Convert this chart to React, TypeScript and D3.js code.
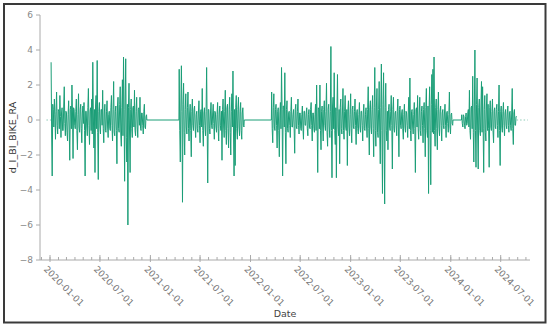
import React from 'react';
import * as d3 from 'd3';

// sampled every 2 days, one array per season of counting
const STEP_DAYS = 2;
const segmentStarts = ['2020-01-05', '2021-04-16', '2022-03-19', '2024-02-10'];

const segA = [
  3.3, -0.8, -3.2, 0.9, 0.6, -0.4, 1.2, 0.3, -1.1, 0.5, 1.6, -0.3, -0.8, 0.6, 0.5, -0.5,
  1.4, 0.2, -1.0, 0.4, 0.7, -0.6, -0.6, 0.8, 1.9, -0.2, -0.9, 0.5, 0.4, -0.7, -1.2, 0.3,
  1.1, -0.4, -2.3, 0.6, 0.8, -0.5, 2.0, 0.4, -2.2, 0.7, 0.6, -0.3, -0.5, 0.5, 1.2, -0.6,
  -1.7, 0.3, 1.5, -0.4, -0.7, 0.6, 0.9, -0.5, -1.3, 0.4, 0.8, -0.2, 1.0, -0.6, -3.2, 0.5,
  0.5, -0.4, -0.9, 0.7, 1.8, -0.3, -1.4, 0.5, 0.7, -0.6, 1.2, -0.8, 3.3, 0.4, -1.6, 0.6,
  -3.0, 0.8, 1.4, -0.5, 3.4, -0.7, -3.4, 0.5, 1.0, -0.4, -0.8, 0.6, 0.6, -0.3, 1.7, -0.5,
  -1.3, 0.4, 0.9, -0.6, -0.7, 0.5, 1.1, -0.4, -1.0, 0.3, 0.5, -0.5, -0.6, 0.7, 1.4, -0.3,
  -1.2, 0.6, 2.2, -0.7, -0.9, 0.5, 0.8, -0.6, -2.5, 0.8, 1.3, -0.5, -0.7, 0.9, 1.9, -0.8,
  -1.5, 0.7, 2.3, -0.9, 3.6, 0.6, -3.5, 0.8, 3.5, -1.0, -2.4, 0.9, -6.0, 0.7, 2.1, -0.8,
  -3.0, 0.6, 1.2, -0.5, -1.0, 0.7, 0.8, -0.4, 1.7, -0.6, -0.9, 0.5, 1.3, -0.4, -1.0, 0.6,
  0.7, -0.3, 1.3, -0.5, -0.6, 0.4, 0.4, -0.3, -0.8, 0.5, 0.9, -0.4, -0.5, 0.2, 0.3,
];

const segB = [
  2.9, -0.6, -2.4, 0.8, 3.1, 0.5, -4.7, 0.9, 2.1, -0.7, -2.0, 0.6, 1.5, -0.4, -0.8, 0.7,
  1.6, -0.5, -1.2, 0.4, 0.9, -0.6, -2.1, 0.5, 1.2, -0.3, -0.6, 0.6, 0.8, -0.4, -1.0, 0.3,
  0.5, -0.5, -0.7, 0.4, 1.1, -0.3, -1.3, 0.5, 0.6, -0.4, 1.8, -0.6, -1.5, 0.4, 0.7, -0.3,
  -0.9, 0.5, 3.0, -0.4, -3.6, 0.6, 0.6, -0.5, -0.8, 0.4, 1.0, -0.3, -0.5, 0.4, 0.9, -0.2,
  -1.1, 0.5, 0.4, -0.4, -0.7, 0.3, 1.0, -0.5, -1.2, 0.4, 0.8, -0.3, -0.6, 0.5, -2.3, 0.6,
  1.2, -0.4, -1.0, 0.5, 1.7, -0.6, -1.4, 0.7, 0.9, -0.5, -1.6, 0.6, 1.3, -0.7, -2.0, 0.5,
  1.5, -0.4, 2.8, -0.8, -3.2, 0.6, -2.6, 0.7, 1.4, -0.5, -1.1, 0.6, 1.3, -0.4, -0.9, 0.5,
  1.0, -0.6, -1.1, 0.4, 0.7, -0.3, -0.4,
];

const segC = [
  1.6, -0.5, -1.3, 0.7, 1.5, -0.4, -0.6, 0.6, 0.9, -0.3, -1.6, 0.5, 0.7, -0.6, -2.1, 0.4,
  1.0, -0.5, 3.0, 0.6, -3.2, 0.8, 0.8, -0.4, 2.7, -0.7, -2.5, 0.6, 1.1, -0.5, -0.7, 0.4,
  0.5, -0.3, -1.0, 0.5, 1.3, -0.4, -0.4, 0.3, 0.6, -0.5, -1.9, 0.6, 0.9, -0.4, -0.5, 0.5,
  1.2, -0.3, -0.8, 0.4, 0.4, -0.5, -0.6, 0.3, 0.8, -0.4, -1.1, 0.5, 0.5, -0.3, -0.3, 0.4,
  0.7, -0.5, -0.9, 0.3, 0.6, -0.4, -0.5, 0.6, 1.0, -0.3, -1.2, 0.4, 0.4, -0.5, -0.7, 0.3,
  0.9, -0.6, 2.0, -0.4, -3.0, 0.7, 0.6, -0.5, 2.0, -0.6, -1.7, 0.5, 0.8, -0.4, -1.2, 0.6,
  1.1, -0.3, -0.6, 0.5, 2.1, -0.7, -1.5, 0.6, 0.9, -0.4, -1.0, 0.5, 4.2, -0.6, -3.3, 0.8,
  1.3, -0.5, 2.7, -0.6, -1.4, 0.7, -3.3, 0.5, 2.6, -0.4, -0.9, 0.6, -2.5, 0.7, 1.2, -0.5,
  -0.8, 0.4, 1.8, -0.6, -1.1, 0.5, 1.4, -0.4, -0.6, 0.6, -2.6, 0.5, 1.1, -0.4, -0.9, 0.3,
  1.5, -0.5, -1.3, 0.6, 0.8, -0.4, -0.5, 0.5, 1.2, -0.3, -1.4, 0.4, 0.6, -0.5, -0.8, 0.3,
  1.0, -0.4, -0.7, 0.5, 0.5, -0.3, -1.2, 0.4, 0.9, -0.5, -0.6, 0.3, 0.7, -0.4, -1.0, 0.6,
  1.9, -0.5, -2.0, 0.7, 1.1, -0.4, -0.8, 0.6, 1.4, -0.5, -2.1, 0.7, 3.0, -0.6, -1.5, 0.8,
  1.8, -0.7, -1.0, 0.6, 2.2, -0.8, -2.5, 0.7, 3.2, -0.6, -4.2, 0.9, 2.7, -0.8, -4.8, 0.7,
  2.1, -0.6, -1.2, 0.5, -1.7, 0.6, 0.9, -0.4, -0.6, 0.5, 1.4, -0.3, -2.8, 0.6, 1.3, -0.5,
  -0.7, 0.4, 0.5, -0.3, -0.9, 0.5, 1.2, -0.4, -2.1, 0.6, 0.8, -0.3, -0.5, 0.4, 0.6, -0.5,
  -1.1, 0.3, 0.9, -0.4, -0.7, 0.5, 0.4, -0.3, -1.0, 0.4, 1.3, -0.5, 2.4, -0.6, -1.2, 0.5,
  0.6, -0.4, -0.8, 0.3, 1.0, -0.5, -3.0, 0.6, 0.7, -0.4, 1.4, -0.5, -1.1, 0.4, 1.3, -0.6,
  -0.9, 0.5, 0.8, -0.3, -1.3, 0.6, 1.0, -0.5, -2.1, 0.7, 1.8, -0.6, -1.0, 0.8, -4.2, 0.7,
  1.9, -0.6, -3.7, 0.9, 2.6, -0.7, 2.9, -0.8, 3.6, -0.6, -1.5, 0.7, 1.2, -0.5, -1.7, 0.6,
  1.6, -0.4, -0.9, 0.5, 0.8, -0.3, -1.2, 0.4, 0.6, -0.3, -0.5, 0.4, 0.9, -0.3, -1.0, 0.4,
  0.5, -0.2, -0.7, 0.3, 1.6, -0.4, -0.8, 0.3, 0.4, -0.2, -0.3,
];

const segD = [
  0.3, -0.2, -0.4, 0.3, 0.2, -0.3, -0.5, 0.2, 0.4, -0.3, -0.2, 0.4, 0.6, -0.4, 1.7, -0.6,
  -1.1, 0.7, 0.8, -0.5, 2.5, -0.7, -2.4, 0.8, 4.0, -0.6, -2.7, 0.9, 2.4, -0.8, -2.8, 0.7,
  1.2, -0.6, -0.9, 0.8, 2.2, -0.7, 1.9, -0.5, -3.0, 0.6, 1.4, -0.7, -1.2, 0.8, 1.5, -0.6,
  0.9, -0.5, -2.7, 0.7, 1.1, -0.4, -0.6, 0.5, 1.2, -0.6, -1.3, 0.5, 0.7, -0.4, -0.5, 0.6,
  0.9, -0.3, -1.0, 0.5, 2.0, -0.6, -2.6, 0.5, 0.8, -0.4, -0.7, 0.5, 1.0, -0.3, -0.9, 0.4,
  0.6, -0.3, -0.5, 0.4, 0.8, -0.3, -0.7, 0.4, 0.5, -0.3, -0.6, 0.4, 1.8, -0.5, -1.4, 0.4,
  0.6, -0.3, -0.3, 0.2, 0.2,
];

const yTicks = [-8, -6, -4, -2, 0, 2, 4, 6];
const xTickLabels = [
  '2020-01-01', '2020-07-01', '2021-01-01', '2021-07-01', '2022-01-01',
  '2022-07-01', '2023-01-01', '2023-07-01', '2024-01-01', '2024-07-01',
];
const leadIn = '2019-12-19';
const tailOut = '2024-10-08';

const parse = d3.utcParse('%Y-%m-%d');
const COLOR = '#1b9e77';

function buildSeries() {
  const segs = [segA, segB, segC, segD];
  const pts: { date: Date; value: number }[] = [];
  segs.forEach((vals, k) => {
    const start = parse(segmentStarts[k]) as Date;
    if (k > 0) pts.push({ date: d3.utcDay.offset(start, -1), value: 0 });
    vals.forEach((v, i) => pts.push({ date: d3.utcDay.offset(start, i * STEP_DAYS), value: v }));
    if (k < segs.length - 1) {
      pts.push({ date: d3.utcDay.offset(start, (vals.length - 1) * STEP_DAYS + 1), value: 0 });
    }
  });
  return pts;
}

export default function App() {
  const width = 550;
  const height = 327;
  const left = 40, right = 530, top = 15, bottom = 260;

  const x = d3.scaleUtc()
    .domain([parse('2020-01-01') as Date, parse('2024-07-01') as Date])
    .range([50, 500.7]);
  const y = d3.scaleLinear().domain([-8, 6]).range([bottom, top]);

  const series = buildSeries();
  const line = d3.line<{ date: Date; value: number }>()
    .x(d => x(d.date))
    .y(d => y(d.value));

  const first = series[0].date;
  const last = series[series.length - 1].date;
  const minorTicks = d3.utcMonth.range(parse('2019-12-01') as Date, parse('2024-10-02') as Date);
  const fmt = d3.format('');

  const font = 'DejaVu Sans, Verdana, sans-serif';

  return (
    <svg width={width} height={height} style={{ position: 'absolute', left: 0, top: 0, background: '#fff' }}
      fontFamily={font}>
      <rect x={4} y={4} width={541.5} height={318.5} fill="#fff" stroke="#3a3a3a" strokeWidth={2} />

      {/* dotted lead-in / tail at zero */}
      <line x1={x(parse(leadIn) as Date)} x2={x(first)} y1={y(0)} y2={y(0)}
        stroke="#8cc9b5" strokeDasharray="1.5,2" />
      <line x1={x(last)} x2={x(parse(tailOut) as Date)} y1={y(0)} y2={y(0)}
        stroke="#8cc9b5" strokeDasharray="1.5,2" />

      <path d={line(series) || ''} fill="none" stroke={COLOR} strokeWidth={1} strokeLinejoin="round" />

      {/* y axis */}
      <line x1={left} x2={left} y1={top} y2={bottom} stroke="#aaa" />
      {yTicks.map(t => (
        <g key={t} transform={`translate(0,${y(t)})`}>
          <line x1={left - 4} x2={left} stroke="#aaa" />
          <text x={left - 7} dy="0.32em" textAnchor="end" fontSize={9} fill="#888">
            {t < 0 ? '\u2212' + fmt(-t) : fmt(t)}
          </text>
        </g>
      ))}

      {/* x axis */}
      <line x1={left} x2={right} y1={bottom} y2={bottom} stroke="#aaa" />
      {minorTicks.map((d, i) => (
        <line key={i} x1={x(d)} x2={x(d)} y1={bottom - 3} y2={bottom} stroke="#aaa" />
      ))}
      {xTickLabels.map(s => {
        const px = x(parse(s) as Date);
        return (
          <g key={s}>
            <line x1={px} x2={px} y1={bottom - 5} y2={bottom + 2} stroke="#aaa" />
            <text transform={`translate(${px - 2},${bottom + 5}) rotate(45)`} dy="0.75em"
              fontSize={9} fill="#777">{s}</text>
          </g>
        );
      })}

      <text x={(left + right) / 2} y={317} textAnchor="middle" fontSize={9.5} fill="#444">Date</text>
      <text transform={`translate(16,${(top + bottom) / 2}) rotate(-90)`} textAnchor="middle"
        fontSize={9.5} fill="#333">d_I_BI_BIKE_RA</text>
    </svg>
  );
}
